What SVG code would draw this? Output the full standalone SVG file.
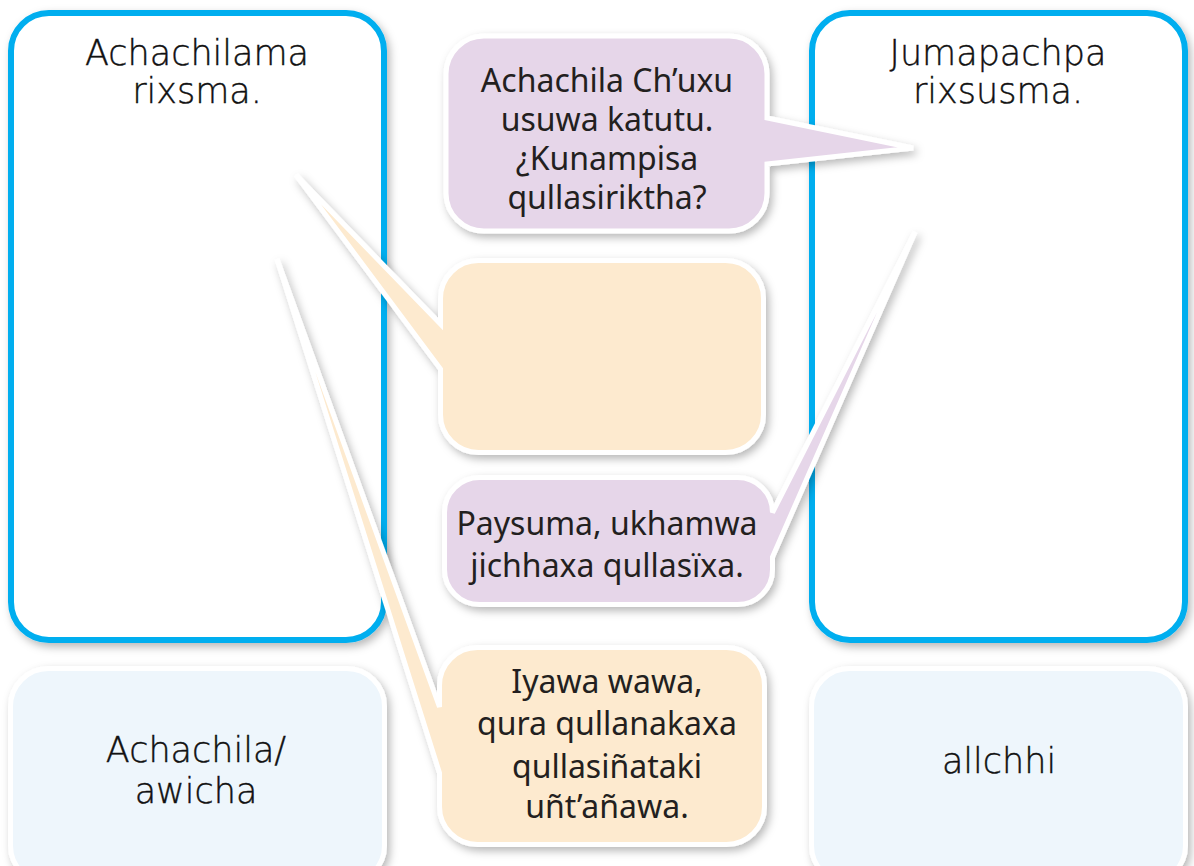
<svg xmlns="http://www.w3.org/2000/svg" width="1194" height="866" viewBox="0 0 1194 866">
<defs>
<filter id="sh" x="-20%" y="-20%" width="140%" height="140%">
<feDropShadow dx="3" dy="4" stdDeviation="4" flood-color="#000" flood-opacity="0.28"/>
</filter>
<style>
.panel{fill:#fff;stroke:#00aeef;stroke-width:6}
.box{fill:#eef6fc;stroke:#fff;stroke-width:5}
.bp{fill:#e6d6e9;stroke:#fff;stroke-width:5;stroke-linejoin:miter}
.bo{fill:#fdeacf;stroke:#fff;stroke-width:5;stroke-linejoin:miter}
.lbl{font-family:"DejaVu Sans","Liberation Sans",sans-serif;font-weight:200;font-size:35px;fill:#111;stroke:#111;stroke-width:0.4;text-anchor:middle}
.cm{font-family:"Noto Sans","Open Sans",sans-serif;font-size:32px;fill:#231f20;text-anchor:middle}
</style>
</defs>
<rect width="1194" height="866" fill="#fff"/>

<g id="panel-left">
<rect class="panel" x="11" y="13" width="373" height="627" rx="38" filter="url(#sh)"/>
<text class="lbl" x="197" y="65">Achachilama</text>
<text class="lbl" x="197" y="103">rixsma.</text>
</g>

<g id="panel-right">
<rect class="panel" x="812" y="13" width="373" height="627" rx="38" filter="url(#sh)"/>
<text class="lbl" x="998" y="65">Jumapachpa</text>
<text class="lbl" x="998" y="103">rixsusma.</text>
</g>

<g id="box-left">
<rect class="box" x="10.5" y="668.5" width="374" height="215" rx="38" filter="url(#sh)"/>
<text class="lbl" x="196" y="762">Achachila/</text>
<text class="lbl" x="196" y="803">awicha</text>
</g>

<g id="box-right">
<rect class="box" x="811.5" y="668.5" width="374" height="215" rx="38" filter="url(#sh)"/>
<text class="lbl" x="999" y="773">allchhi</text>
</g>

<g id="bubble-1">
<path class="bp" filter="url(#sh)" d="M 484 36 H 729 A 38 38 0 0 1 767 74 V 118 L 913 148 L 767 164 V 193 A 38 38 0 0 1 729 231 H 484 A 38 38 0 0 1 446 193 V 74 A 38 38 0 0 1 484 36 Z"/>
<text class="cm" x="607" y="92" font-size="33">Achachila Ch’uxu</text>
<text class="cm" x="607" y="131" font-size="33">usuwa katutu.</text>
<text class="cm" x="607" y="170" font-size="33">¿Kunampisa</text>
<text class="cm" x="607" y="209" font-size="33">qullasiriktha?</text>
</g>

<g id="bubble-2">
<path class="bo" filter="url(#sh)" d="M 478.5 260.5 H 725.5 A 38 38 0 0 1 763.5 298.5 V 414.5 A 38 38 0 0 1 725.5 452.5 H 478.5 A 38 38 0 0 1 440.5 414.5 V 369 L 296 175 L 440.5 324 V 298.5 A 38 38 0 0 1 478.5 260.5 Z"/>
</g>

<g id="bubble-3">
<path class="bp" filter="url(#sh)" d="M 479.5 477.5 H 737.5 A 35 35 0 0 1 772.5 512.5 L 915 232 L 772.5 557 V 569.5 A 35 35 0 0 1 737.5 604.5 H 479.5 A 35 35 0 0 1 444.5 569.5 V 512.5 A 35 35 0 0 1 479.5 477.5 Z"/>
<text class="cm" x="607" y="535" font-size="31">Paysuma, ukhamwa</text>
<text class="cm" x="607" y="577" font-size="31">jichhaxa qullasïxa.</text>
</g>

<g id="bubble-4">
<path class="bo" filter="url(#sh)" d="M 477.5 647.5 H 726.5 A 38 38 0 0 1 764.5 685.5 V 806.5 A 38 38 0 0 1 726.5 844.5 H 477.5 A 38 38 0 0 1 439.5 806.5 V 773 L 277 259 L 439.5 707 V 685.5 A 38 38 0 0 1 477.5 647.5 Z"/>
<text class="cm" x="607" y="693">Iyawa wawa,</text>
<text class="cm" x="607" y="735">qura qullanakaxa</text>
<text class="cm" x="607" y="778">qullasiñataki</text>
<text class="cm" x="607" y="818">uñt’añawa.</text>
</g>
</svg>
